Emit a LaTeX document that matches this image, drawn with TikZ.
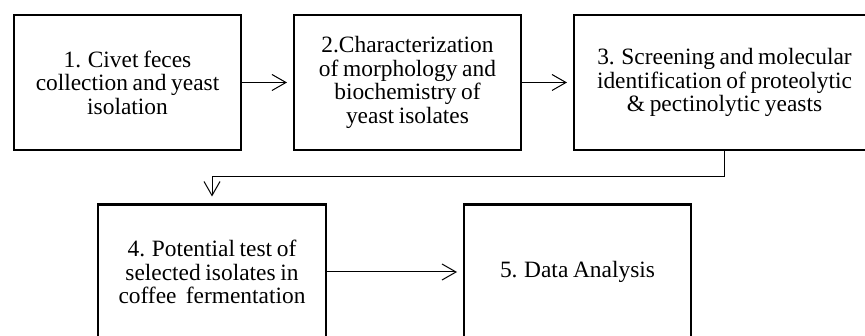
\documentclass[tikz,border=0pt]{standalone}
\usepackage{fontspec}
\setmainfont[WordSpace=0.8]{Liberation Serif}
\usetikzlibrary{arrows.meta}
\begin{document}
\begin{tikzpicture}[x=1pt,y=-1pt,
  box/.style={draw=black, line width=2.4pt, fill=white, inner sep=0pt, align=center,
    font=\fontsize{23.4}{23.6}\selectfont},
  conn/.style={draw=black, line width=1pt, -{Straight Barb[length=14pt,width=16pt,line width=1pt]}}]
\useasboundingbox (0,0) rectangle (865,336);
\clip (0,0) rectangle (865,336);
\fill[white] (0,0) rectangle (865,336);
\node[box, minimum width=226.6pt, minimum height=134.6pt] (b1) at (127.5,82.5)
  {1. Civet feces\\collection and yeast\\isolation};
\node[box, minimum width=226.6pt, minimum height=134.6pt] (b2) at (407.5,82.5)
  {2.Characterization\\of morphology and\\biochemistry of\\yeast isolates};
\node[box, minimum width=300.6pt, minimum height=134.6pt] (b3) at (724.5,82.5)
  {3. Screening and molecular\\identification of proteolytic\\\& pectinolytic yeasts};
\node[box, minimum width=227.6pt, minimum height=134.6pt] (b4) at (212,272)
  {4. Potential test of\\selected isolates in\\coffee\ \ fermentation};
\node[box, minimum width=226.6pt, minimum height=134.6pt] (b5) at (577.5,272)
  {5. Data Analysis};
\draw[conn, shorten >=6pt] (b1.east) -- (b2.west);
\draw[conn, shorten >=6pt] (b2.east) -- (b3.west);
\draw[conn, shorten >=7pt] (b3.south) -- ++(0,26) -| (b4.north);
\draw[conn, shorten >=6pt] (b4.east) -- (b5.west);
\end{tikzpicture}
\end{document}
